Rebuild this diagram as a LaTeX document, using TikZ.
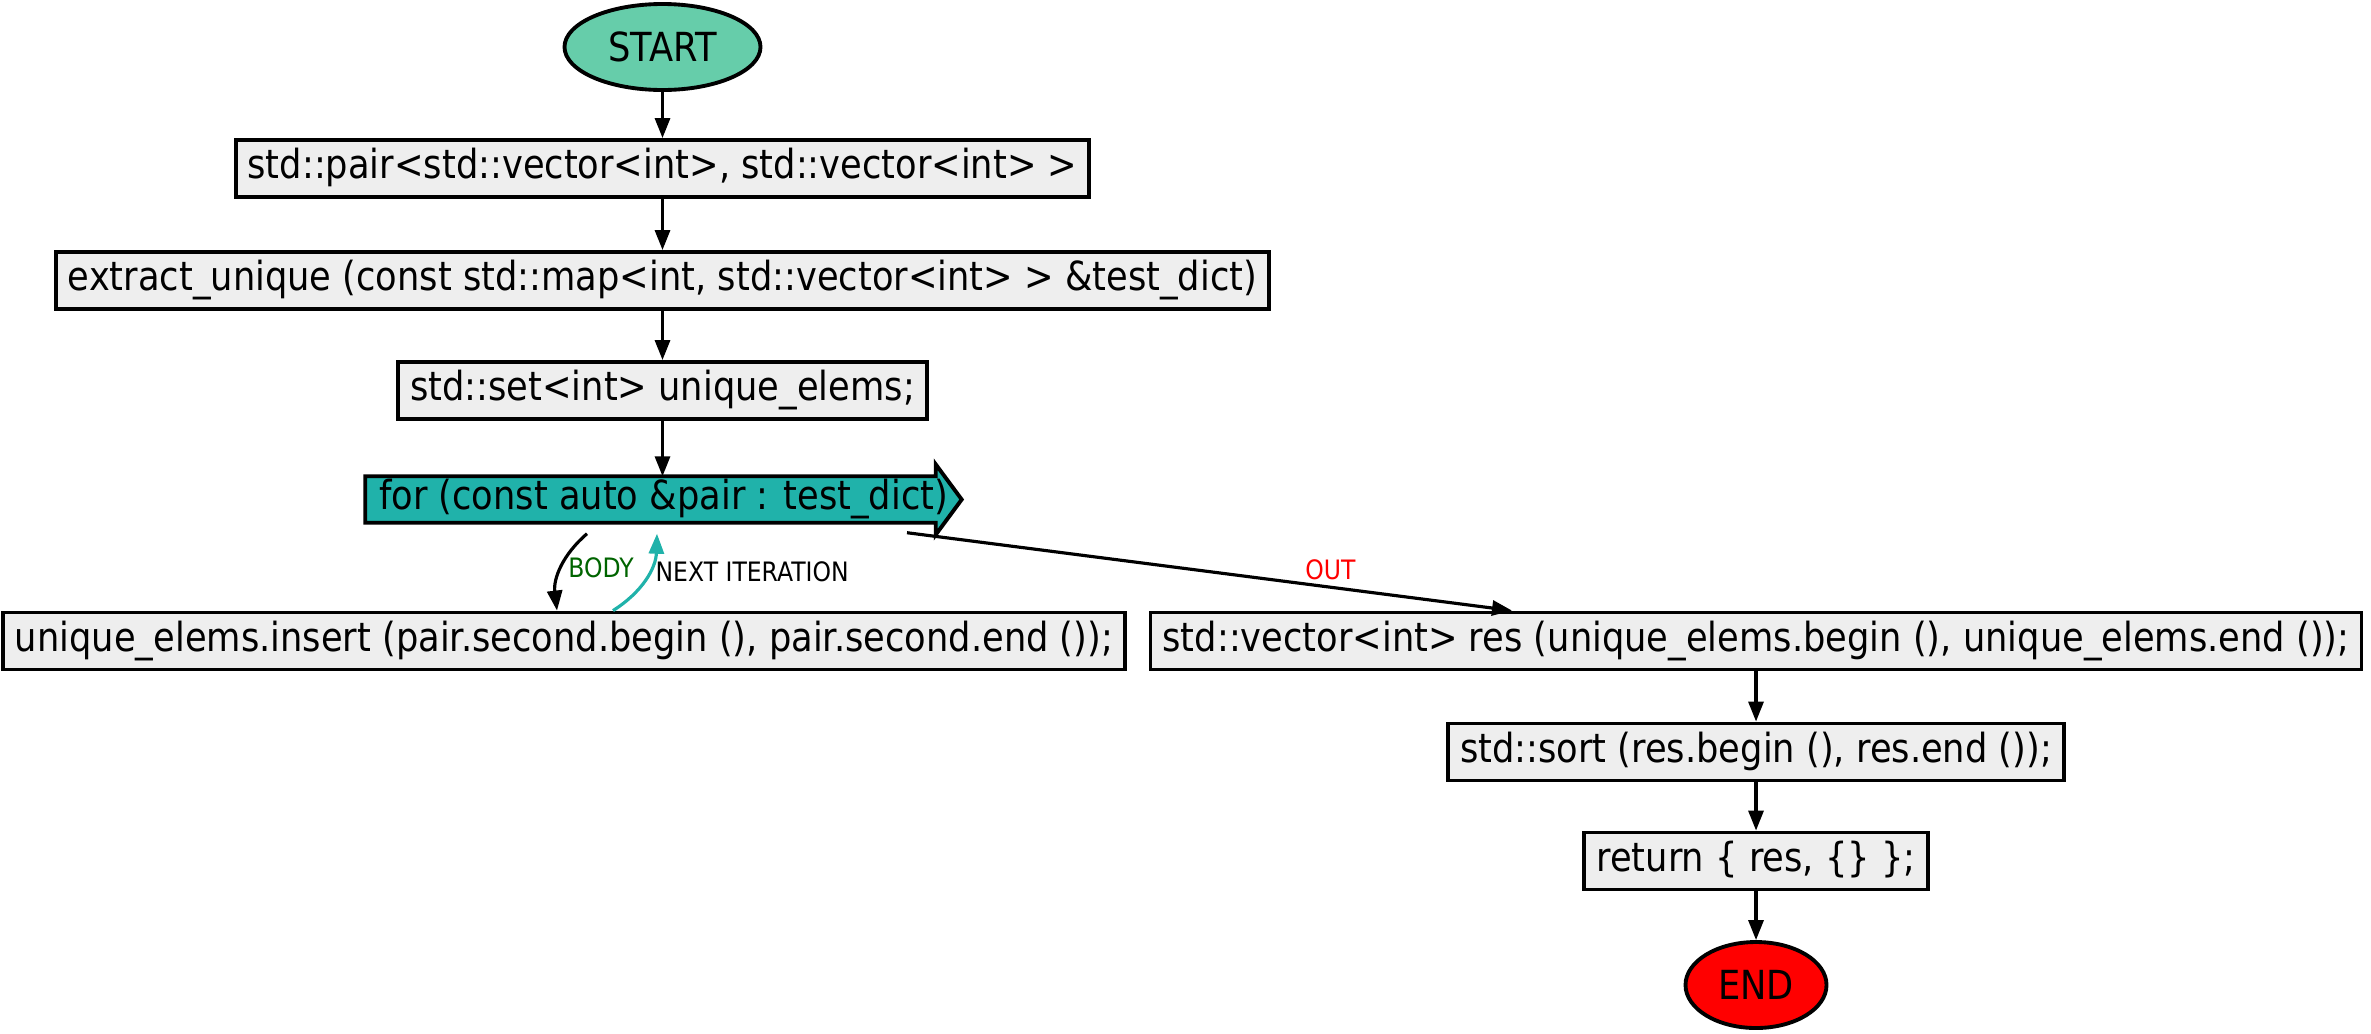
\documentclass[tikz,border=0pt]{standalone}
\usepackage{fontspec}
\setmainfont[FakeStretch=0.88]{DejaVu Sans}
\usepackage{xcolor}
\usepackage{tikz}
\usetikzlibrary{shapes.geometric, arrows.meta, positioning, backgrounds}

\definecolor{startgreen}{HTML}{66CDAA}
\definecolor{loopteal}{HTML}{20B2AA}
\definecolor{boxgray}{HTML}{EEEEEE}
\definecolor{bodygreen}{HTML}{006400}

\begin{document}
\begin{tikzpicture}[
    node distance=0.5cm,
    terminal/.style={ellipse, draw=black, line width=1.1pt, minimum width=1.96cm, minimum height=0.86cm, inner sep=0pt, font=\fontsize{11.4pt}{13pt}\selectfont},
    codebox/.style={rectangle, draw=black, fill=boxgray, line width=1.1pt, minimum height=0.57cm, inner xsep=0.12cm, inner ysep=0pt, text height=0.3cm, text depth=0.1cm, font=\fontsize{11.4pt}{13pt}\selectfont},
    loopbox/.style={rectangle, minimum width=5.95cm, minimum height=0.45cm, inner sep=0pt, text height=0.3cm, text depth=0.1cm, font=\fontsize{11.4pt}{13pt}\selectfont},
    flow/.style={line width=0.9pt, -{Triangle[length=0.2cm, width=0.15cm]}},
    label/.style={font=\fontsize{7.6pt}{9pt}\selectfont, inner sep=1.5pt}
]
    \useasboundingbox (0,0) rectangle (23.71,-10.33);

    % Main column
    \node[terminal, fill=startgreen] (start) at (6.625,-0.47) {START};
    \node[codebox] (pairdecl) at (6.625,-1.685) {std::pair<std::vector<int>, std::vector<int> >};
    \node[codebox] (extract) at (6.625,-2.805) {extract\_unique (const std::map<int, std::vector<int> > \&test\_dict)};
    \node[codebox] (uniqset) at (6.625,-3.905) {std::set<int> unique\_elems;};

    % Loop header
    \node[loopbox] (forloop) at (6.635,-4.995) {for (const auto \&pair : test\_dict)};
    \begin{pgfonlayer}{background}
        \draw[fill=loopteal, line width=1.1pt, line join=miter]
            (forloop.south west) -- (forloop.north west) -- ([xshift=-0.26cm]forloop.north east)
            -- ++(0,0.12) -- (forloop.east) -- ([xshift=-0.26cm, yshift=-0.12cm]forloop.south east)
            -- ([xshift=-0.26cm]forloop.south east) -- cycle;
    \end{pgfonlayer}

    % Loop body and the statements after it
    \node[codebox] (insertstmt) at (5.64,-6.41) {unique\_elems.insert (pair.second.begin (), pair.second.end ());};
    \node[codebox] (resvec) at (17.56,-6.41) {std::vector<int> res (unique\_elems.begin (), unique\_elems.end ());};
    \node[codebox] (sortstmt) at (17.56,-7.52) {std::sort (res.begin (), res.end ());};
    \node[codebox] (retstmt) at (17.56,-8.61) {return \{ res, \{\} \};};
    \node[terminal, fill=red, minimum width=1.41cm] (stop) at (17.56,-9.85) {END};

    % Connections
    \draw[flow] (start) -- (pairdecl);
    \draw[flow] (pairdecl) -- (extract);
    \draw[flow] (extract) -- (uniqset);
    \draw[flow] (uniqset.south) -- (uniqset.south |- forloop.north);
    \draw[flow] ([xshift=-0.765cm, yshift=-0.11cm]forloop.south) to[bend right=28]
        node[right, label, text=bodygreen] {BODY} ([xshift=-0.07cm]insertstmt.north);
    \draw[flow, loopteal] ([xshift=0.49cm]insertstmt.north) to[bend right=28]
        node[pos=0.58, right, label, text=black] {NEXT ITERATION} ([xshift=-0.065cm, yshift=-0.11cm]forloop.south);
    \draw[flow] ([xshift=2.435cm, yshift=-0.1cm]forloop.south) --
        node[pos=0.7, above, label, text=red] {OUT} ([xshift=-2.44cm]resvec.north);
    \draw[flow] (resvec) -- (sortstmt);
    \draw[flow] (sortstmt) -- (retstmt);
    \draw[flow] (retstmt) -- (stop);

\end{tikzpicture}
\end{document}
